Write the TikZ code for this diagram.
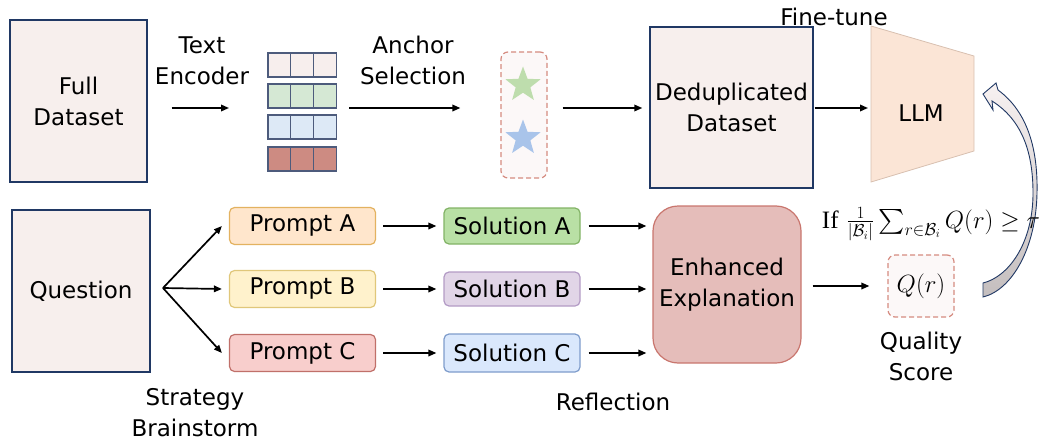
\documentclass[tikz,border=0pt]{standalone}
\usepackage{amsmath}
\usepackage{exscale}
\usepackage{fontspec}
\setmainfont{DejaVu Sans}
\newfontfamily\serifif{Liberation Serif}
\usetikzlibrary{shapes.geometric,arrows.meta}
\definecolor{navy}{HTML}{203864}
\definecolor{paper}{HTML}{F7EFED}
\definecolor{rowA}{HTML}{F7EEED}
\definecolor{rowB}{HTML}{D5E8D4}
\definecolor{rowC}{HTML}{DDE9F6}
\definecolor{rowD}{HTML}{CD8B82}
\definecolor{cellline}{HTML}{4D5B7C}
\definecolor{dashred}{HTML}{D58B80}
\definecolor{dashfill}{HTML}{FCF8F8}
\definecolor{stargreen}{HTML}{BEDDAD}
\definecolor{starblue}{HTML}{A9C4EA}
\definecolor{llmfill}{HTML}{FBE5D6}
\definecolor{llmline}{HTML}{D8C0B0}
\definecolor{pAf}{HTML}{FFE6CC}\definecolor{pAd}{HTML}{E3B260}
\definecolor{pBf}{HTML}{FFF2CC}\definecolor{pBd}{HTML}{E0C77A}
\definecolor{pCf}{HTML}{F8CECC}\definecolor{pCd}{HTML}{C0706A}
\definecolor{sAf}{HTML}{B9E0A5}\definecolor{sAd}{HTML}{82B366}
\definecolor{sBf}{HTML}{E1D5E7}\definecolor{sBd}{HTML}{B39BC5}
\definecolor{sCf}{HTML}{DAE8FC}\definecolor{sCd}{HTML}{7E9CCB}
\definecolor{enhf}{HTML}{E5BDBA}\definecolor{enhd}{HTML}{C9766E}
\definecolor{curvetop}{HTML}{F7F1F1}\definecolor{curvebot}{HTML}{C4BEBE}
\tikzset{
  paperbox/.style={draw=navy, line width=1.4pt, fill=paper, align=center, inner sep=0pt},
  pill/.style={rounded corners=5pt, line width=1.2pt, minimum width=146pt, minimum height=37pt, inner sep=0pt},
  sol/.style={rounded corners=5pt, line width=1.2pt, minimum width=136pt, minimum height=36pt, inner sep=0pt},
  flow/.style={line width=1.7pt, -{Triangle[length=8pt,width=6.5pt]}},
  dbox/.style={draw=dashred, fill=dashfill, dashed, dash pattern=on 5pt off 3pt, line width=1.2pt, rounded corners=7pt, inner sep=0pt},
  lbl/.style={align=center, inner sep=0pt},
  cell/.style={draw=cellline, line width=1.1pt},
  starry/.style={star, star points=5, star point ratio=2.4, minimum size=37pt, inner sep=0pt}
}
\begin{document}
\begin{tikzpicture}[x=1pt,y=-1pt, font=\fontsize{23}{31}\selectfont]
\useasboundingbox (0,0) rectangle (1054,444);

% ---- top row ----
\node[paperbox, minimum width=137pt, minimum height=162pt] (full) at (78.5,101) {Full\\Dataset};
\node[lbl] (enc) at (202,61) {Text\\Encoder};

% embedding matrix
\foreach \r/\y/\c in {0/53/rowA,1/84/rowB,2/115/rowC,3/147/rowD}{
  \foreach \k in {0,1,2}{
    \draw[cell, fill=\c] ({268+\k*22.7},\y) rectangle ({268+(\k+1)*22.7},{\y+24});
  }
}
\coordinate (emb) at (336,108);
\coordinate (embw) at (268,108);
\node[lbl] (anch) at (413,60) {Anchor\\Selection};

\node[dbox, minimum width=46pt, minimum height=126pt] (abox) at (524,115) {};
\node[starry, fill=stargreen] (s1) at (523,85) {};
\node[starry, fill=starblue] (s2) at (523,138) {};

\node[paperbox, minimum width=163pt, minimum height=161pt] (dedup) at (731.5,107.5) {Deduplicated\\Dataset};

\draw[llmline, fill=llmfill, line width=0.8pt] (871,26) -- (974,56) -- (974,151) -- (871,182) -- cycle;
\node[lbl] (llm) at (921,113) {LLM};
\coordinate (llmw) at (871,108);
\node[lbl] (ft) at (834,17) {Fine-tune};

\draw[flow] ([xshift=24pt]full.east |- emb) -- ([xshift=-39pt]embw);
\draw[flow] ([xshift=13pt]emb) -- ([xshift=-40pt]abox.west |- emb);
\draw[flow] ([xshift=15pt]abox.east |- emb) -- ([xshift=-7pt]dedup.west |- emb);
\draw[flow] ([xshift=1pt]dedup.east |- emb) -- ([xshift=-3pt]llmw);

% curved feedback arrow
\draw[navy, line width=0.9pt, top color=curvetop, bottom color=curvebot]
  (983,94) -- (996,83) -- (998,90)
  .. controls (1028,112) and (1038,150) .. (1037,193)
  .. controls (1036,248) and (1012,290) .. (983,297)
  -- (983,283)
  .. controls (1008,277) and (1033,244) .. (1033,193)
  .. controls (1033,152) and (1022,120) .. (992,101)
  -- (993,110) -- cycle;
\coordinate (fb) at (983,94);

% ---- bottom row ----
\node[paperbox, minimum width=138pt, minimum height=162pt] (q) at (81,291) {Question};
\coordinate (fan) at (163,288);

\node[pill, draw=pAd, fill=pAf] (pA) at (302.5,226) {Prompt A};
\node[pill, draw=pBd, fill=pBf] (pB) at (302.5,289) {Prompt B};
\node[pill, draw=pCd, fill=pCf] (pC) at (302.5,353) {Prompt C};

\node[sol, draw=sAd, fill=sAf] (sA) at (512,226) {Solution A};
\node[sol, draw=sBd, fill=sBf, minimum height=34pt] (sB) at (512,289) {Solution B};
\node[sol, draw=sCd, fill=sCf, minimum height=38pt] (sC) at (512,353) {Solution C};

\node[draw=enhd, fill=enhf, line width=1.2pt, rounded corners=25pt, minimum width=148pt, minimum height=157pt, align=center, inner sep=0pt] (enh) at (727,284.5) {Enhanced\\Explanation};

\node[dbox, minimum width=66pt, minimum height=62pt] (qr) at (921,286) {};
\node[lbl, font=\fontsize{25}{30}\selectfont] at (qr.center) {$Q(r)$};
\node[lbl] (qs) at (921,356) {Quality\\Score};
\node[lbl, font=\fontsize{25}{30}\selectfont] (cond) at (931,224) {{\serifif If} $\frac{1}{|\mathcal{B}_i|}\textstyle\sum_{r\in\mathcal{B}_i} Q(r) \geq \tau$};

\node[lbl] (sb) at (195,413) {Strategy\\Brainstorm};
\node[lbl] (refl) at (613,402) {Reflection};

\draw[flow] (fan) -- ([xshift=-7pt]pA.west);
\draw[flow] (fan) -- ([xshift=-7pt]pB.west);
\draw[flow] (fan) -- ([xshift=-7pt]pC.west);
\draw[flow] ([xshift=7pt]pA.east) -- ([xshift=-7pt]sA.west);
\draw[flow] ([xshift=7pt]pB.east) -- ([xshift=-7pt]sB.west);
\draw[flow] ([xshift=7pt]pC.east) -- ([xshift=-7pt]sC.west);
\draw[flow] ([xshift=8pt]sA.east) -- ([xshift=-6pt]enh.west |- sA.east);
\draw[flow] ([xshift=8pt]sB.east) -- ([xshift=-6pt]enh.west |- sB.east);
\draw[flow] ([xshift=8pt]sC.east) -- ([xshift=-6pt]enh.west |- sC.east);
\draw[flow] ([xshift=11pt]enh.east |- qr.west) -- ([xshift=-18pt]qr.west);
\end{tikzpicture}
\end{document}
